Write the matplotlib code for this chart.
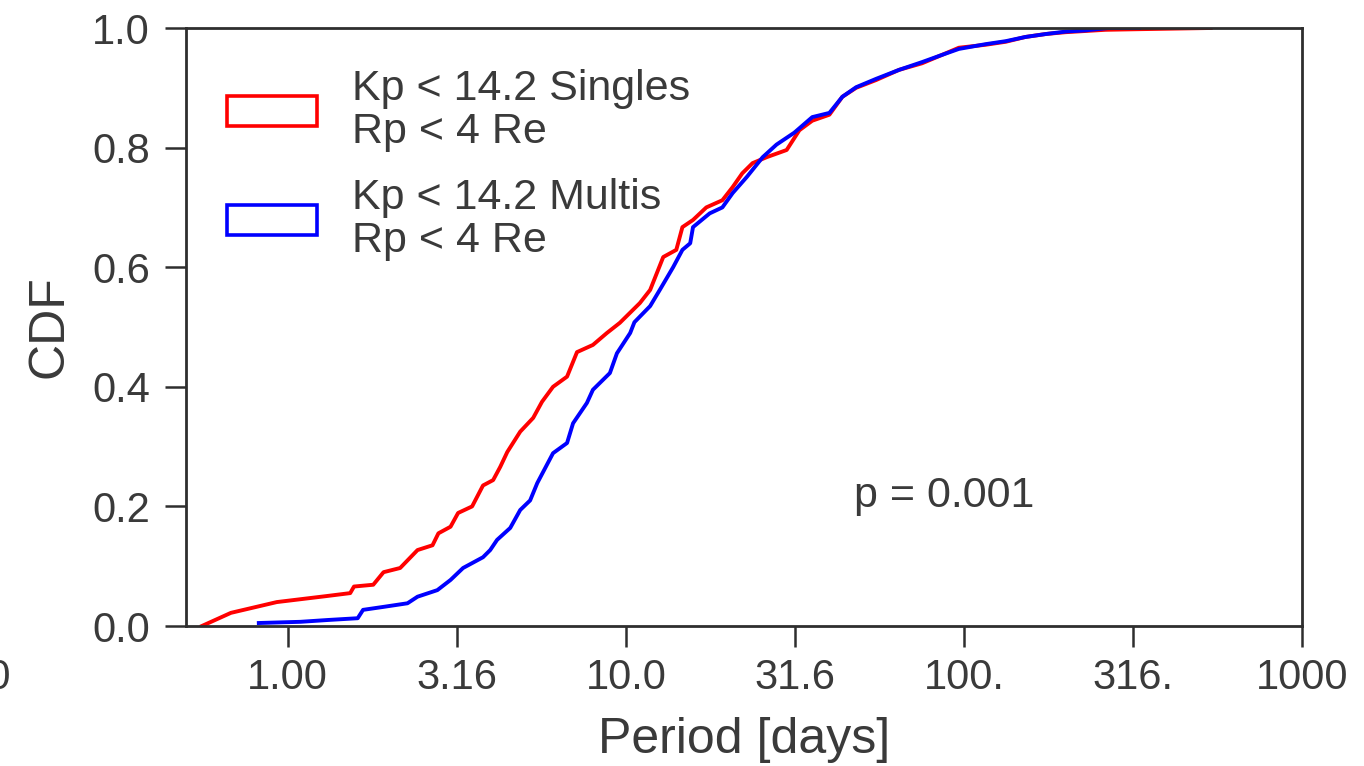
import matplotlib
matplotlib.use("Agg")
import matplotlib.pyplot as plt
from matplotlib.patches import Patch

plt.rcParams['font.family'] = ['Liberation Sans', 'DejaVu Sans']

# ---- data (period [days], CDF) ----
singles_period = [0.557, 0.679, 0.928, 1.30, 1.53, 1.57, 1.79, 1.92, 2.15, 2.42,
                  2.68, 2.79, 3.03, 3.19, 3.51, 3.78, 4.05, 4.25, 4.46, 4.87,
                  5.32, 5.65, 6.09, 6.70, 7.17, 7.99, 8.79, 9.60, 11.0, 11.8,
                  12.9, 14.1, 14.7, 15.8, 17.3, 19.3, 20.7, 22.1, 23.7, 26.1,
                  29.9, 32.6, 35.6, 40.0, 43.7, 48.0, 55.0, 64.3, 75.2, 86.1,
                  96.6, 116, 133, 152, 175, 200, 229, 262, 328, 537]
singles_cdf = [0.0, 0.022, 0.040, 0.050, 0.055, 0.066, 0.069, 0.090, 0.097, 0.127,
               0.135, 0.155, 0.166, 0.189, 0.200, 0.235, 0.244, 0.266, 0.291, 0.325,
               0.348, 0.375, 0.400, 0.417, 0.458, 0.470, 0.490, 0.507, 0.540, 0.562,
               0.617, 0.629, 0.667, 0.679, 0.700, 0.712, 0.734, 0.757, 0.774, 0.784,
               0.796, 0.829, 0.845, 0.855, 0.885, 0.900, 0.913, 0.930, 0.941, 0.955,
               0.967, 0.972, 0.977, 0.985, 0.990, 0.993, 0.995, 0.997, 0.998, 1.0]

multis_period = [0.821, 1.09, 1.31, 1.61, 1.67, 1.92, 2.26, 2.42, 2.77, 3.03,
                 3.30, 3.78, 3.97, 4.16, 4.55, 4.87, 5.21, 5.47, 6.09, 6.70,
                 6.98, 7.67, 7.99, 8.97, 9.41, 10.3, 10.6, 11.8, 12.6, 13.8,
                 14.7, 15.5, 15.8, 17.7, 19.3, 20.7, 22.8, 25.4, 27.9, 31.5,
                 35.6, 40.0, 43.7, 48.0, 55.0, 64.3, 75.2, 86.1, 96.6, 116,
                 133, 152, 175, 200, 229, 268, 330]
multis_cdf = [0.005, 0.007, 0.010, 0.013, 0.027, 0.032, 0.038, 0.049, 0.060, 0.077,
              0.097, 0.115, 0.127, 0.144, 0.164, 0.194, 0.210, 0.239, 0.289, 0.306,
              0.339, 0.373, 0.395, 0.423, 0.456, 0.490, 0.508, 0.535, 0.562, 0.600,
              0.629, 0.640, 0.667, 0.690, 0.700, 0.724, 0.751, 0.784, 0.805, 0.825,
              0.851, 0.858, 0.885, 0.901, 0.915, 0.930, 0.943, 0.955, 0.965, 0.973,
              0.978, 0.985, 0.990, 0.994, 0.996, 1.0, 1.0]

labels = ["Kp < 14.2 Singles\nRp < 4 Re", "Kp < 14.2 Multis\nRp < 4 Re"]
colors = ["red", "blue"]
xticks = [1.0, 3.16, 10.0, 31.6, 100.0, 316.0, 1000.0]
xticklabels = ["1.00", "3.16", "10.0", "31.6", "100.", "316.", "1000"]
yticks = [0.0, 0.2, 0.4, 0.6, 0.8, 1.0]
yticklabels = ["0.0", "0.2", "0.4", "0.6", "0.8", "1.0"]
p_text = "p = 0.001"

TXT = "#3a3a3a"
SP = "#2e2e2e"

fig = plt.figure(figsize=(13.64, 7.66), dpi=100)
ax = fig.add_axes([186 / 1364, 1 - 626 / 766, (1302 - 186) / 1364, (626 - 28) / 766])

ax.plot(singles_period, singles_cdf, color=colors[0], lw=2.8)
ax.plot(multis_period, multis_cdf, color=colors[1], lw=2.8)

ax.set_xscale("log")
ax.set_xlim(0.5, 1000)
ax.set_ylim(0, 1.0)
ax.set_xticks(xticks)
ax.set_xticklabels(xticklabels)
ax.xaxis.set_minor_locator(matplotlib.ticker.NullLocator())
ax.set_yticks(yticks)
ax.set_yticklabels(yticklabels)

ax.tick_params(axis="both", direction="out", length=15, width=1.8, color=SP,
               labelsize=30, labelcolor=TXT)
ax.tick_params(axis="x", pad=8)
ax.tick_params(axis="y", pad=11)
for s in ax.spines.values():
    s.set_color(SP)
    s.set_linewidth(2.0)

ax.set_xlabel("Period [days]", fontsize=36, color=TXT, labelpad=14)
ax.set_ylabel("CDF", fontsize=36, color=TXT, labelpad=14)

ax.text(47.3, 0.218, p_text, fontsize=31, color=TXT, va="center", ha="left")

handles = [Patch(facecolor="none", edgecolor=c, linewidth=2.6) for c in colors]
leg = ax.legend(handles, labels, loc="upper left", frameon=False, fontsize=31,
                handlelength=2.1, handleheight=0.7, handletextpad=0.8,
                labelspacing=0.6, borderaxespad=0.55)
for t in leg.get_texts():
    t.set_color(TXT)
    t.set_linespacing(1.1)

# fragment of a neighbouring panel's tick label, cut by the left edge
fig.text(11 / 1364, 1 - 658 / 766, "1000", fontsize=30, color=TXT, ha="right", va="top")

fig.savefig("out.png", dpi=100)
